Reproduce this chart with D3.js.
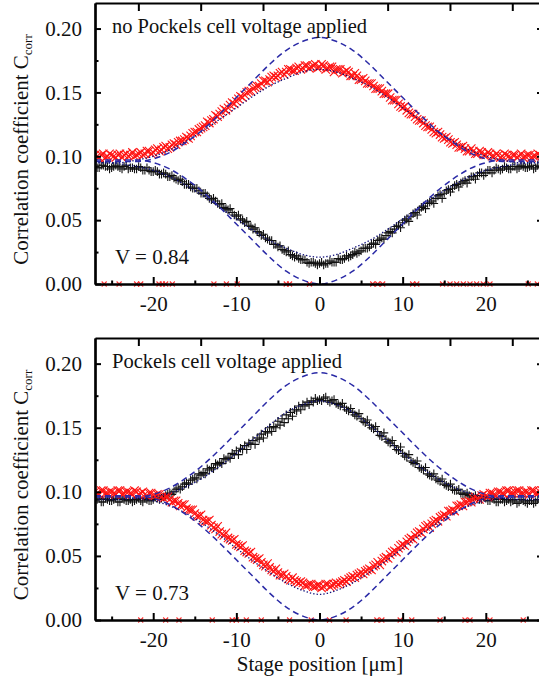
<!DOCTYPE html>
<html>
<head>
<meta charset="UTF-8">
<title>Correlation coefficient vs stage position</title>
<style>
  body { margin: 0; background: #fff; }
  #chart, #chart text { font-family: 'Times New Roman', Times, 'Liberation Serif', Tinos, 'DejaVu Serif', serif; }
</style>
</head>
<body>
<svg id="chart"></svg>
<script src="https://d3js.org/d3.v7.min.js"></script>
<script>
// stage position grid of the measured points [um], two interleaved scans
var stagePos = [
  -27,-26.5,-26,-25.5,-25,-24.5,-24,-23.5,-23,-22.5,
  -22,-21.5,-21,-20.5,-20,-19.5,-19,-18.5,-18,-17.5,
  -17,-16.5,-16,-15.5,-15,-14.5,-14,-13.5,-13,-12.5,
  -12,-11.5,-11,-10.5,-10,-9.5,-9,-8.5,-8,-7.5,
  -7,-6.5,-6,-5.5,-5,-4.5,-4,-3.5,-3,-2.5,
  -2,-1.5,-1,-0.5,0,0.5,1,1.5,2,2.5,
  3,3.5,4,4.5,5,5.5,6,6.5,7,7.5,
  8,8.5,9,9.5,10,10.5,11,11.5,12,12.5,
  13,13.5,14,14.5,15,15.5,16,16.5,17,17.5,
  18,18.5,19,19.5,20,20.5,21,21.5,22,22.5,
  23,23.5,24,24.5,25,25.5,26,26.5,27
];
var stagePosB = [
  -26.75,-26.25,-25.75,-25.25,-24.75,-24.25,-23.75,-23.25,-22.75,-22.25,
  -21.75,-21.25,-20.75,-20.25,-19.75,-19.25,-18.75,-18.25,-17.75,-17.25,
  -16.75,-16.25,-15.75,-15.25,-14.75,-14.25,-13.75,-13.25,-12.75,-12.25,
  -11.75,-11.25,-10.75,-10.25,-9.75,-9.25,-8.75,-8.25,-7.75,-7.25,
  -6.75,-6.25,-5.75,-5.25,-4.75,-4.25,-3.75,-3.25,-2.75,-2.25,
  -1.75,-1.25,-0.75,-0.25,0.25,0.75,1.25,1.75,2.25,2.75,
  3.25,3.75,4.25,4.75,5.25,5.75,6.25,6.75,7.25,7.75,
  8.25,8.75,9.25,9.75,10.25,10.75,11.25,11.75,12.25,12.75,
  13.25,13.75,14.25,14.75,15.25,15.75,16.25,16.75,17.25,17.75,
  18.25,18.75,19.25,19.75,20.25,20.75,21.25,21.75,22.25,22.75,
  23.25,23.75,24.25,24.75,25.25,25.75,26.25,26.75
];

// top panel: no Pockels cell voltage
var redTop = [
  0.101,0.099,0.102,0.100,0.101,0.099,0.102,0.101,0.100,0.103,
  0.101,0.103,0.102,0.104,0.103,0.106,0.105,0.108,0.107,0.110,
  0.111,0.112,0.115,0.116,0.119,0.121,0.123,0.127,0.128,0.132,
  0.133,0.137,0.138,0.142,0.143,0.147,0.148,0.151,0.153,0.155,
  0.157,0.159,0.160,0.163,0.163,0.166,0.166,0.168,0.167,0.170,
  0.169,0.171,0.170,0.172,0.170,0.171,0.169,0.170,0.168,0.168,
  0.166,0.166,0.163,0.163,0.160,0.159,0.157,0.155,0.153,0.151,
  0.149,0.146,0.144,0.141,0.138,0.136,0.133,0.131,0.128,0.126,
  0.123,0.121,0.118,0.117,0.114,0.113,0.110,0.109,0.107,0.106,
  0.104,0.104,0.102,0.103,0.101,0.102,0.100,0.101,0.100,0.101,
  0.099,0.101,0.100,0.099,0.101,0.099,0.100,0.101,0.099
];
var redTopB = [
  0.100,0.101,0.099,0.102,0.100,0.101,0.099,0.102,0.101,0.100,
  0.102,0.101,0.104,0.102,0.105,0.104,0.107,0.106,0.109,0.109,
  0.112,0.113,0.114,0.118,0.119,0.122,0.124,0.126,0.129,0.131,
  0.135,0.136,0.140,0.141,0.145,0.146,0.150,0.151,0.154,0.155,
  0.159,0.158,0.162,0.162,0.165,0.164,0.168,0.167,0.169,0.168,
  0.171,0.169,0.171,0.169,0.172,0.168,0.170,0.166,0.168,0.165,
  0.167,0.163,0.165,0.160,0.161,0.157,0.157,0.153,0.153,0.149,
  0.149,0.144,0.144,0.139,0.139,0.134,0.133,0.129,0.128,0.124,
  0.123,0.119,0.119,0.115,0.115,0.111,0.111,0.107,0.108,0.104,
  0.106,0.102,0.104,0.101,0.103,0.100,0.102,0.099,0.102,0.100,
  0.101,0.099,0.102,0.100,0.101,0.100,0.102,0.100
];
var blackTop = [
  0.092,0.091,0.093,0.092,0.091,0.093,0.091,0.092,0.090,0.091,
  0.090,0.091,0.089,0.089,0.088,0.088,0.086,0.086,0.084,0.083,
  0.081,0.080,0.078,0.076,0.075,0.073,0.071,0.069,0.066,0.065,
  0.062,0.060,0.058,0.056,0.053,0.051,0.048,0.046,0.043,0.041,
  0.038,0.036,0.034,0.031,0.029,0.027,0.025,0.023,0.021,0.020,
  0.019,0.017,0.017,0.016,0.016,0.015,0.016,0.017,0.017,0.019,
  0.020,0.021,0.023,0.024,0.026,0.028,0.029,0.032,0.034,0.036,
  0.038,0.041,0.043,0.046,0.048,0.051,0.053,0.056,0.058,0.061,
  0.063,0.065,0.067,0.070,0.071,0.074,0.075,0.078,0.079,0.081,
  0.082,0.084,0.085,0.087,0.087,0.089,0.089,0.090,0.090,0.091,
  0.090,0.092,0.091,0.092,0.091,0.093,0.091,0.092,0.091
];
var blackTopB = [
  0.091,0.093,0.092,0.090,0.092,0.092,0.090,0.093,0.091,0.090,
  0.092,0.089,0.091,0.088,0.089,0.086,0.087,0.084,0.085,0.082,
  0.082,0.078,0.078,0.075,0.075,0.071,0.071,0.067,0.067,0.063,
  0.063,0.059,0.059,0.054,0.054,0.050,0.049,0.045,0.044,0.040,
  0.039,0.035,0.034,0.031,0.030,0.026,0.026,0.022,0.022,0.019,
  0.019,0.016,0.017,0.015,0.017,0.016,0.018,0.017,0.020,0.019,
  0.022,0.022,0.025,0.025,0.028,0.028,0.031,0.031,0.035,0.035,
  0.040,0.040,0.045,0.044,0.050,0.049,0.055,0.054,0.060,0.059,
  0.064,0.063,0.069,0.067,0.073,0.072,0.077,0.076,0.080,0.079,
  0.084,0.082,0.087,0.085,0.089,0.087,0.091,0.089,0.092,0.090,
  0.092,0.090,0.093,0.091,0.092,0.090,0.093,0.091
];

// bottom panel: Pockels cell voltage applied
var blackBottom = [
  0.093,0.095,0.092,0.094,0.093,0.095,0.092,0.094,0.093,0.092,
  0.094,0.093,0.095,0.093,0.094,0.095,0.095,0.097,0.099,0.100,
  0.103,0.104,0.107,0.109,0.111,0.114,0.115,0.118,0.119,0.122,
  0.123,0.126,0.127,0.130,0.132,0.134,0.136,0.138,0.140,0.142,
  0.145,0.147,0.150,0.151,0.155,0.157,0.160,0.162,0.164,0.167,
  0.168,0.170,0.171,0.173,0.172,0.173,0.171,0.171,0.169,0.167,
  0.166,0.163,0.162,0.159,0.157,0.154,0.152,0.149,0.147,0.143,
  0.141,0.138,0.136,0.132,0.130,0.127,0.124,0.122,0.119,0.117,
  0.114,0.112,0.110,0.108,0.106,0.104,0.102,0.101,0.099,0.098,
  0.097,0.096,0.095,0.094,0.095,0.093,0.094,0.092,0.094,0.093,
  0.092,0.094,0.092,0.093,0.091,0.093,0.092,0.093,0.092
];
var blackBottomB = [
  0.094,0.092,0.095,0.093,0.094,0.092,0.095,0.093,0.094,0.093,
  0.095,0.092,0.094,0.093,0.096,0.094,0.096,0.098,0.098,0.102,
  0.102,0.106,0.106,0.110,0.110,0.113,0.114,0.117,0.118,0.121,
  0.122,0.125,0.126,0.129,0.129,0.133,0.133,0.137,0.137,0.141,
  0.142,0.146,0.147,0.150,0.152,0.154,0.157,0.159,0.163,0.164,
  0.167,0.168,0.170,0.171,0.171,0.174,0.170,0.172,0.168,0.169,
  0.164,0.165,0.160,0.161,0.155,0.156,0.150,0.151,0.144,0.146,
  0.139,0.140,0.133,0.135,0.128,0.129,0.123,0.124,0.118,0.119,
  0.113,0.114,0.109,0.110,0.105,0.106,0.101,0.102,0.098,0.099,
  0.096,0.097,0.094,0.096,0.093,0.095,0.092,0.094,0.092,0.094,
  0.093,0.091,0.094,0.092,0.093,0.091,0.094,0.092
];
var redBottom = [
  0.100,0.098,0.101,0.099,0.100,0.098,0.101,0.099,0.100,0.098,
  0.100,0.099,0.098,0.099,0.097,0.098,0.096,0.096,0.094,0.093,
  0.091,0.090,0.087,0.086,0.083,0.081,0.078,0.077,0.074,0.071,
  0.069,0.066,0.064,0.062,0.059,0.057,0.054,0.052,0.049,0.047,
  0.045,0.042,0.041,0.038,0.037,0.035,0.034,0.031,0.031,0.029,
  0.029,0.027,0.028,0.026,0.027,0.026,0.028,0.027,0.029,0.029,
  0.031,0.032,0.034,0.035,0.037,0.038,0.040,0.042,0.045,0.046,
  0.049,0.051,0.054,0.056,0.059,0.061,0.064,0.066,0.069,0.071,
  0.074,0.075,0.078,0.080,0.082,0.085,0.086,0.089,0.090,0.092,
  0.093,0.095,0.095,0.097,0.097,0.099,0.098,0.100,0.099,0.101,
  0.099,0.100,0.101,0.099,0.100,0.101,0.099,0.100,0.101
];
var redBottomB = [
  0.099,0.101,0.099,0.100,0.099,0.101,0.098,0.100,0.099,0.101,
  0.098,0.100,0.097,0.099,0.097,0.098,0.095,0.096,0.092,0.093,
  0.089,0.090,0.086,0.086,0.081,0.082,0.077,0.078,0.072,0.073,
  0.067,0.068,0.063,0.063,0.058,0.058,0.053,0.053,0.048,0.048,
  0.043,0.044,0.039,0.040,0.035,0.036,0.032,0.033,0.030,0.030,
  0.027,0.028,0.026,0.027,0.025,0.028,0.026,0.028,0.028,0.030,
  0.030,0.033,0.033,0.036,0.036,0.039,0.039,0.043,0.043,0.048,
  0.048,0.053,0.053,0.058,0.058,0.063,0.063,0.068,0.068,0.073,
  0.072,0.077,0.077,0.081,0.081,0.085,0.085,0.089,0.089,0.092,
  0.092,0.096,0.094,0.098,0.096,0.099,0.097,0.100,0.098,0.101,
  0.099,0.101,0.099,0.100,0.098,0.101,0.099,0.101
];

// points that dropped to zero
var zeroRedTop = [-25.9,-24.1,-22.0,-21.5,-19.3,-18.9,-18.5,-17.7,-12.7,-11.2,-9.9,-4.0,-3.6,-1.2,
  6.4,7.0,7.6,11.2,11.7,14.8,15.7,16.5,17.3,18.1,18.9,19.7,20.5,25.1,26.2];
var zeroRedBottom = [-21.5,-18.5,-16.9,-12.9,-10.5,-10.0,-8.8,-7.0,-3.6,-1.0,1.2,3.2,6.9,7.5,
  9.7,11.1,14.5,17.5,18.1,20.5,24.5];

// fits (dotted) and ideal curves for V = 1 (dashed)
var fitPos = [-27,-24,-22,-20,-18,-16,-14,-12,-10,-8,-6,-4,-2,0,2,4,6,8,10,12,14,16,18,20,22,24,27];
var fitTopUpper = [0.095,0.095,0.097,0.100,0.105,0.112,0.120,0.129,0.138,0.147,0.155,0.161,0.166,0.168,
  0.166,0.161,0.155,0.147,0.138,0.129,0.120,0.112,0.105,0.100,0.097,0.095,0.095];
var fitTopLower = [0.095,0.094,0.092,0.089,0.084,0.077,0.069,0.060,0.051,0.042,0.034,0.028,0.023,0.021,
  0.023,0.028,0.034,0.042,0.051,0.060,0.069,0.077,0.084,0.089,0.092,0.094,0.095];
var fitBottomUpper = [0.094,0.094,0.095,0.096,0.099,0.104,0.111,0.120,0.130,0.141,0.152,0.162,0.168,0.171,
  0.168,0.162,0.152,0.141,0.130,0.120,0.111,0.104,0.099,0.096,0.095,0.094,0.094];
var fitBottomLower = [0.096,0.096,0.095,0.093,0.089,0.083,0.075,0.066,0.056,0.046,0.037,0.029,0.023,0.020,
  0.023,0.029,0.037,0.046,0.056,0.066,0.075,0.083,0.089,0.093,0.095,0.096,0.096];
var idealUpper = [0.096,0.096,0.096,0.098,0.103,0.111,0.121,0.133,0.146,0.159,0.172,0.183,0.190,0.193,
  0.190,0.183,0.172,0.159,0.146,0.133,0.121,0.111,0.103,0.098,0.096,0.096,0.096];
var idealLower = [0.097,0.097,0.097,0.095,0.090,0.082,0.072,0.060,0.047,0.034,0.021,0.010,0.003,0.000,
  0.003,0.010,0.021,0.034,0.047,0.060,0.072,0.082,0.090,0.095,0.097,0.097,0.097];

var yTicks = [0, 0.05, 0.10, 0.15, 0.20];
var yMinor = [0.025, 0.075, 0.125, 0.175];
var xTicks = [-20, -10, 0, 10, 20];
var xMinor = [-25, -15, -5, 5, 15, 25];
var delayTicks = [-150, -100, -50, 0, 50, 100, 150];

var W = 539, H = 684;
var serif = "'Times New Roman', Times, 'Liberation Serif', Tinos, 'DejaVu Serif', serif";
var svg = d3.select('#chart').attr('width', W).attr('height', H).style('font-family', serif);

var x = d3.scaleLinear().domain([-27, 27]).range([95, 544]);
// top axis: optical delay in fs (2x/c), zero a bit off the stage origin
var xTop = d3.scaleLinear().domain([(-27 - 0.7) * 6.671, (27 - 0.7) * 6.671]).range([95, 544]);

var panels = [
  { top: 3, bottom: 284, title: 'no Pockels cell voltage applied', titleLen: 255, vis: 'V = 0.84',
    red: [redTop, redTopB], black: [blackTop, blackTopB], fits: [fitTopUpper, fitTopLower], zeroRed: zeroRedTop },
  { top: 338, bottom: 620, title: 'Pockels cell voltage applied', titleLen: 230, vis: 'V = 0.73',
    red: [redBottom, redBottomB], black: [blackBottom, blackBottomB], fits: [fitBottomUpper, fitBottomLower], zeroRed: zeroRedBottom }
];
var positions = [stagePos, stagePosB];

var crossPath = 'M-4.2,-4.2L4.2,4.2M-4.2,4.2L4.2,-4.2';
var plusPath = 'M-4.3,0H4.3M0,-4.3V4.3';

panels.forEach(function (p, pi) {
  var y = d3.scaleLinear().domain([0, 0.22]).range([p.bottom, p.top]);
  var g = svg.append('g');

  var clipId = 'clip' + pi;
  svg.append('clipPath').attr('id', clipId).append('rect')
    .attr('x', 95).attr('y', p.top).attr('width', 449).attr('height', p.bottom - p.top + 6);
  var plot = g.append('g').attr('clip-path', 'url(#' + clipId + ')');

  // black + data
  p.black.forEach(function (vals, k) {
    plot.append('g').selectAll('path').data(vals).enter().append('path')
      .attr('d', plusPath)
      .attr('transform', function (d, i) { return 'translate(' + x(positions[k][i]) + ',' + y(d) + ')'; })
      .attr('stroke', '#111').attr('stroke-width', 1.1).attr('fill', 'none');
  });

  // red x data
  p.red.forEach(function (vals, k) {
    plot.append('g').selectAll('path').data(vals).enter().append('path')
      .attr('d', crossPath)
      .attr('transform', function (d, i) { return 'translate(' + x(positions[k][i]) + ',' + y(d) + ')'; })
      .attr('stroke', '#ff1414').attr('stroke-width', 1.1).attr('fill', 'none');
  });

  // zero points
  plot.append('g').selectAll('path').data(p.zeroRed).enter().append('path')
    .attr('d', 'M-2.5,-2.5L2.5,2.5M-2.5,2.5L2.5,-2.5')
    .attr('transform', function (d) { return 'translate(' + x(d) + ',' + y(0) + ')'; })
    .attr('stroke', '#ff3030').attr('stroke-width', 1.1);

  // dotted fits
  var line = d3.line().curve(d3.curveMonotoneX)
    .x(function (d, i) { return x(fitPos[i]); })
    .y(function (d) { return y(d); });
  p.fits.forEach(function (f) {
    plot.append('path').attr('d', line(f))
      .attr('fill', 'none').attr('stroke', '#10107a').attr('stroke-width', 1.3)
      .attr('stroke-dasharray', '1.4 2');
  });

  // dashed ideal curves
  [idealUpper, idealLower].forEach(function (f) {
    plot.append('path').attr('d', line(f))
      .attr('fill', 'none').attr('stroke', '#2a2aa6').attr('stroke-width', 1.5)
      .attr('stroke-dasharray', '6 4');
  });

  // axes
  g.append('g').attr('transform', 'translate(95,0)')
    .call(d3.axisLeft(y).tickValues(yTicks).tickSizeInner(-6).tickSizeOuter(0).tickPadding(13)
      .tickFormat(d3.format('.2f')));
  g.append('g').attr('transform', 'translate(95,0)')
    .call(d3.axisLeft(y).tickValues(yMinor).tickSizeInner(-3.5).tickSizeOuter(0).tickFormat(''));
  g.append('g').attr('transform', 'translate(544,0)')
    .call(d3.axisRight(y).tickValues(yTicks).tickSizeInner(-7).tickSizeOuter(0).tickFormat(''));

  g.append('g').attr('transform', 'translate(0,' + p.bottom + ')')
    .call(d3.axisBottom(x).tickValues(xTicks).tickSizeInner(-7).tickSizeOuter(0).tickPadding(12)
      .tickFormat(function (d) { return d; }));
  g.append('g').attr('transform', 'translate(0,' + p.bottom + ')')
    .call(d3.axisBottom(x).tickValues(xMinor).tickSizeInner(-3.5).tickSizeOuter(0).tickFormat(''));
  g.append('g').attr('transform', 'translate(0,' + p.top + ')')
    .call(d3.axisTop(xTop).tickValues(delayTicks).tickSizeInner(-8).tickSizeOuter(0).tickFormat(''));

  g.selectAll('.domain').attr('stroke', '#000').attr('stroke-width', 2.2);
  g.selectAll('.tick line').attr('stroke', '#000').attr('stroke-width', 2);
  g.selectAll('.tick text').attr('font-family', serif).attr('font-size', 21).attr('fill', '#111');

  // y title
  var ty = g.append('text')
    .attr('transform', 'translate(28,' + ((p.top + p.bottom) / 2 + 6) + ') rotate(-90)')
    .attr('text-anchor', 'middle').attr('font-size', 21).attr('fill', '#111');
  ty.append('tspan').text('Correlation coefficient C');
  ty.append('tspan').attr('font-size', 13).attr('dy', 4).text('corr');

  // annotations
  g.append('text').attr('x', 112).attr('y', p.top + 30).attr('font-size', 21).attr('fill', '#111')
    .attr('textLength', p.titleLen).attr('lengthAdjust', 'spacingAndGlyphs').text(p.title);
  g.append('text').attr('x', 115).attr('y', p.bottom - 20).attr('font-size', 21).attr('fill', '#111')
    .text(p.vis);
});

svg.append('text').attr('x', 320).attr('y', 671).attr('text-anchor', 'middle')
  .attr('font-size', 21).attr('fill', '#111').text('Stage position [\u03bcm]');
</script>
</body>
</html>
